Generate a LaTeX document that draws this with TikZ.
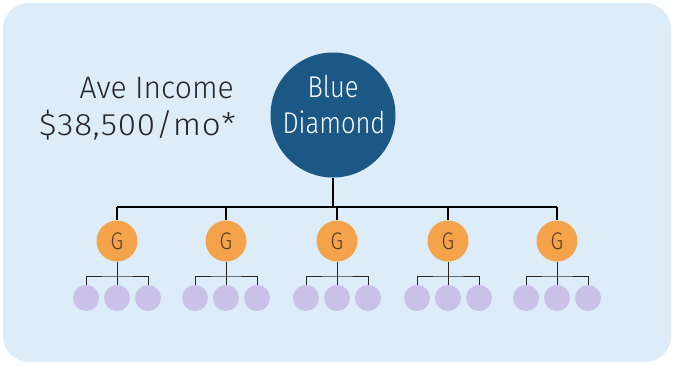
\documentclass[tikz,border=0pt]{standalone}
\usepackage{fontspec}
\setmainfont{Fira Sans}[UprightFont=* Light, FakeStretch=0.85]
\newfontfamily\incomefont{Fira Sans}[UprightFont=* Light, FakeStretch=0.97]
\newfontfamily\amountfont{Fira Sans}[UprightFont=* Light, FakeStretch=1.07, LetterSpace=2.5]
\begin{document}
\definecolor{panel}{HTML}{DDECF9}
\definecolor{bdblue}{HTML}{1B5886}
\definecolor{gorange}{HTML}{F5A34A}
\definecolor{gtext}{HTML}{5A3A2C}
\definecolor{leaf}{HTML}{C9C1E8}
\begin{tikzpicture}[x=1pt,y=-1pt,
  top/.style={circle,fill=bdblue,minimum size=125pt,inner sep=0pt},
  toptext/.style={anchor=base,inner sep=0pt,text=white,font=\fontsize{30}{34}\selectfont},
  side/.style={anchor=base east,inner sep=0pt,text=black!85},
  gnode/.style={circle,fill=gorange,minimum size=41pt,inner sep=0pt,text=gtext,
    font=\fontsize{24}{26}\selectfont},
  leafnode/.style={circle,fill=leaf,minimum size=26pt,inner sep=0pt},
  trunk/.style={line width=1.6pt,black},
  twig/.style={line width=1pt,black!85}]
\useasboundingbox (0,0) rectangle (675,365);
\fill[white] (0,0) rectangle (675,365);
\fill[panel,rounded corners=26pt] (3,3) rectangle (671,362);

% caption on the left
\node[side,font=\incomefont\fontsize{31}{36}\selectfont] (income) at (234,98) {Ave Income};
\node[side,font=\amountfont\fontsize{31}{36}\selectfont] (amount) at (236,135) {\$38,500/mo*};

% top of the tree
\node[top] (bd) at (333,115) {};
\node[toptext] (bdline1) at (333,97) {Blue};
\node[toptext] (bdline2) at (334,133) {Diamond};

\coordinate (bar) at (333,207);
\draw[trunk] (bd.south) -- (bar);
\foreach \i/\x in {1/117,2/226,3/337,4/448,5/557}{
  \node[gnode] (g\i) at (\x,241) {G};
  \coordinate (top\i) at (\x,207);
  \node[leafnode] (l\i a) at (\x-31,298) {};
  \node[leafnode] (l\i b) at (\x,298) {};
  \node[leafnode] (l\i c) at (\x+31,298) {};
  \coordinate (s\i) at (\x,276);
  \draw[trunk] (top\i) -- (g\i.north);
  \draw[twig] (g\i.south) -- (s\i);
  \draw[twig] (l\i a.north) |- (s\i) -| (l\i c.north);
  \draw[twig] (s\i) -- (l\i b.north);
}
\draw[trunk] (top1) -- (top5);
\end{tikzpicture}
\end{document}
